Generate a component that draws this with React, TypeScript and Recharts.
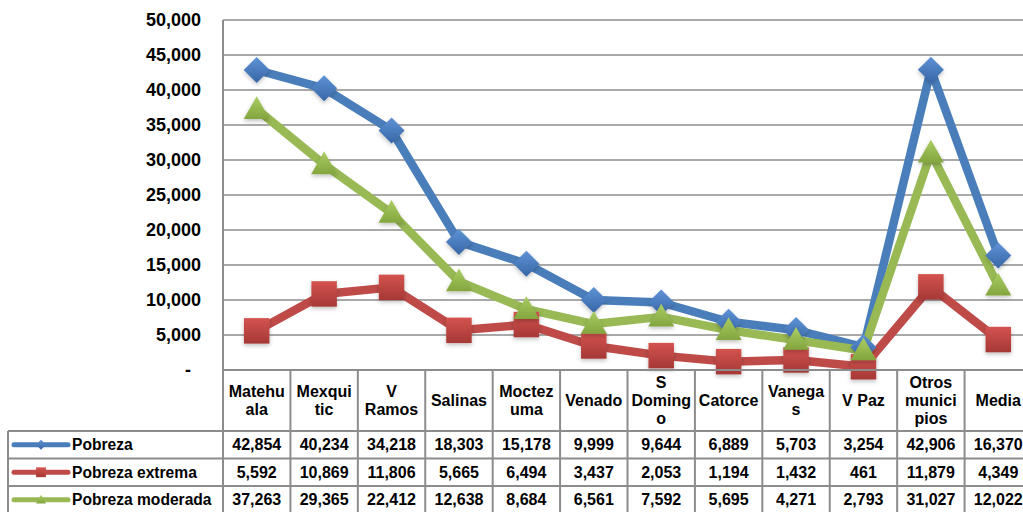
import React from 'react';
import { LineChart, Line, XAxis, YAxis, CartesianGrid } from 'recharts';

const categories = ['Matehuala', 'Mexquitic', 'V Ramos', 'Salinas', 'Moctezuma', 'Venado', 'S Domingo', 'Catorce', 'Vanegas', 'V Paz', 'Otros municipios', 'Media'];
const headerLines = [['Matehu', 'ala'], ['Mexqui', 'tic'], ['V', 'Ramos'], ['Salinas'], ['Moctez', 'uma'], ['Venado'], ['S', 'Doming', 'o'], ['Catorce'], ['Vanega', 's'], ['V Paz'], ['Otros', 'munici', 'pios'], ['Media']];
const pobreza = [42854, 40234, 34218, 18303, 15178, 9999, 9644, 6889, 5703, 3254, 42906, 16370];
const pobrezaExtrema = [5592, 10869, 11806, 5665, 6494, 3437, 2053, 1194, 1432, 461, 11879, 4349];
const pobrezaModerada = [37263, 29365, 22412, 12638, 8684, 6561, 7592, 5695, 4271, 2793, 31027, 12022];
const yTicks = [0, 5000, 10000, 15000, 20000, 25000, 30000, 35000, 40000, 45000, 50000];

const series = [
  { key: 'pobreza', name: 'Pobreza', values: pobreza, color: '#4A7EBB', light: '#5E93D6', dark: '#3866A6', shape: 'diamond' },
  { key: 'extrema', name: 'Pobreza extrema', values: pobrezaExtrema, color: '#BE4B48', light: '#D4534F', dark: '#A53835', shape: 'square' },
  { key: 'moderada', name: 'Pobreza moderada', values: pobrezaModerada, color: '#98B954', light: '#AACD63', dark: '#83A53E', shape: 'triangle' },
];

const data = categories.map((name, i) => ({
  name,
  pobreza: pobreza[i],
  extrema: pobrezaExtrema[i],
  moderada: pobrezaModerada[i],
}));

const FONT = 'Arial, "Liberation Sans", sans-serif';
const CHART_W = 1032;
const CHART_H = 514;
const PLOT_TOP = 20;
const PLOT_LEFT = 223;
const PLOT_BOTTOM = 370;
const BAND = (CHART_W - PLOT_LEFT) / categories.length;
const ROW_Y = [431, 458.5, 486, 513.5];
const TABLE_LINE = '#8c8c8c';
const fmt = (v: number) => v.toLocaleString('en-US');

function Marker({ cx, cy, s, size }: any) {
  const fill = `url(#grad-${s.key})`;
  if (s.shape === 'diamond') {
    const r = size;
    return <polygon points={`${cx},${cy - r} ${cx + r},${cy} ${cx},${cy + r} ${cx - r},${cy}`} fill={fill} />;
  }
  if (s.shape === 'square') {
    const r = size * 0.98;
    return <rect x={cx - r} y={cy - r} width={2 * r} height={2 * r} fill={fill} />;
  }
  const r = size;
  return <polygon points={`${cx},${cy - r} ${cx + r},${cy + r * 0.75} ${cx - r},${cy + r * 0.75}`} fill={fill} />;
}

function makeDot(s: any) {
  return (props: any) => {
    const { cx, cy, index } = props;
    if (cx == null || cy == null) return <g key={`${s.key}-${index}`} />;
    return (
      <g key={`${s.key}-${index}`} filter="url(#shadow)">
        <Marker cx={cx} cy={cy} s={s} size={13} />
      </g>
    );
  };
}

function YTick(props: any) {
  const { x, y, payload } = props;
  const isZero = payload.value === 0;
  return (
    <text x={isZero ? x - 10 : x} y={y} textAnchor="end" dominantBaseline="central" fontFamily={FONT} fontWeight="bold" fontSize={18} fill="#000">
      {isZero ? '-' : fmt(payload.value)}
    </text>
  );
}

function TableTick(props: any) {
  const { x, payload } = props;
  const i = payload.index;
  const lines = headerLines[i];
  const lh = 18;
  const startY = 400 - ((lines.length - 1) * lh) / 2;
  const right = x + BAND / 2;
  return (
    <g>
      {i === 0 && (
        <g>
          <line x1={PLOT_LEFT} x2={CHART_W} y1={PLOT_BOTTOM} y2={PLOT_BOTTOM} stroke={TABLE_LINE} strokeWidth={2} />
          {ROW_Y.map((ry) => (
            <line key={ry} x1={8} x2={CHART_W} y1={ry} y2={ry} stroke={TABLE_LINE} strokeWidth={2} />
          ))}
          <line x1={8} x2={8} y1={ROW_Y[0]} y2={CHART_H} stroke={TABLE_LINE} strokeWidth={2} />
          <line x1={PLOT_LEFT} x2={PLOT_LEFT} y1={PLOT_BOTTOM} y2={CHART_H} stroke={TABLE_LINE} strokeWidth={2} />
          {series.map((s, r) => {
            const cy = (ROW_Y[r] + ROW_Y[r + 1]) / 2;
            return (
              <g key={s.key}>
                <line x1={14} x2={68} y1={cy} y2={cy} stroke={s.color} strokeWidth={5} strokeLinecap="round" />
                <Marker cx={41} cy={cy} s={s} size={5} />
                <text x={72} y={cy} dominantBaseline="central" fontFamily={FONT} fontWeight="bold" fontSize={15.6} fill="#000">
                  {s.name}
                </text>
              </g>
            );
          })}
        </g>
      )}
      <line x1={right} x2={right} y1={PLOT_BOTTOM} y2={CHART_H} stroke={TABLE_LINE} strokeWidth={2} />
      {lines.map((t, k) => (
        <text key={k} x={x} y={startY + k * lh} textAnchor="middle" dominantBaseline="central" fontFamily={FONT} fontWeight="bold" fontSize={16} fill="#000">
          {t}
        </text>
      ))}
      {series.map((s, r) => (
        <text key={s.key} x={x} y={(ROW_Y[r] + ROW_Y[r + 1]) / 2} textAnchor="middle" dominantBaseline="central" fontFamily={FONT} fontWeight="bold" fontSize={16} fill="#000">
          {fmt(s.values[i])}
        </text>
      ))}
    </g>
  );
}

export default function App() {
  return (
    <div style={{ position: 'absolute', left: 0, top: 0, width: 1023, height: 512, overflow: 'hidden', background: '#fff' }}>
      <LineChart width={CHART_W} height={CHART_H} data={data} margin={{ top: PLOT_TOP, right: 0, left: 0, bottom: 0 }}>
        <defs>
          {series.map((s) => (
            <linearGradient key={s.key} id={`grad-${s.key}`} x1="0" y1="0" x2="0" y2="1">
              <stop offset="0%" stopColor={s.light} />
              <stop offset="100%" stopColor={s.dark} />
            </linearGradient>
          ))}
          <filter id="shadow" x="-50%" y="-50%" width="200%" height="200%">
            <feDropShadow dx="0" dy="2" stdDeviation="2" floodColor="#000" floodOpacity="0.25" />
          </filter>
        </defs>
        <CartesianGrid vertical={false} stroke="#8c8c8c" strokeWidth={1.5} />
        <XAxis
          dataKey="name"
          interval={0}
          padding={{ left: BAND / 2, right: BAND / 2 }}
          axisLine={false}
          tickLine={false}
          tickSize={0}
          tickMargin={0}
          height={CHART_H - PLOT_BOTTOM}
          tick={<TableTick />}
        />
        <YAxis
          domain={[0, 50000]}
          ticks={yTicks}
          interval={0}
          width={PLOT_LEFT}
          axisLine={{ stroke: TABLE_LINE, strokeWidth: 2 }}
          tickLine={false}
          tickSize={0}
          tickMargin={22}
          tick={<YTick />}
        />
        {series.map((s) => (
          <Line
            key={s.key}
            type="linear"
            dataKey={s.key}
            name={s.name}
            stroke={s.color}
            strokeWidth={8.5}
            strokeLinejoin="round"
            dot={makeDot(s)}
            activeDot={false}
            isAnimationActive={false}
          />
        ))}
      </LineChart>
    </div>
  );
}
